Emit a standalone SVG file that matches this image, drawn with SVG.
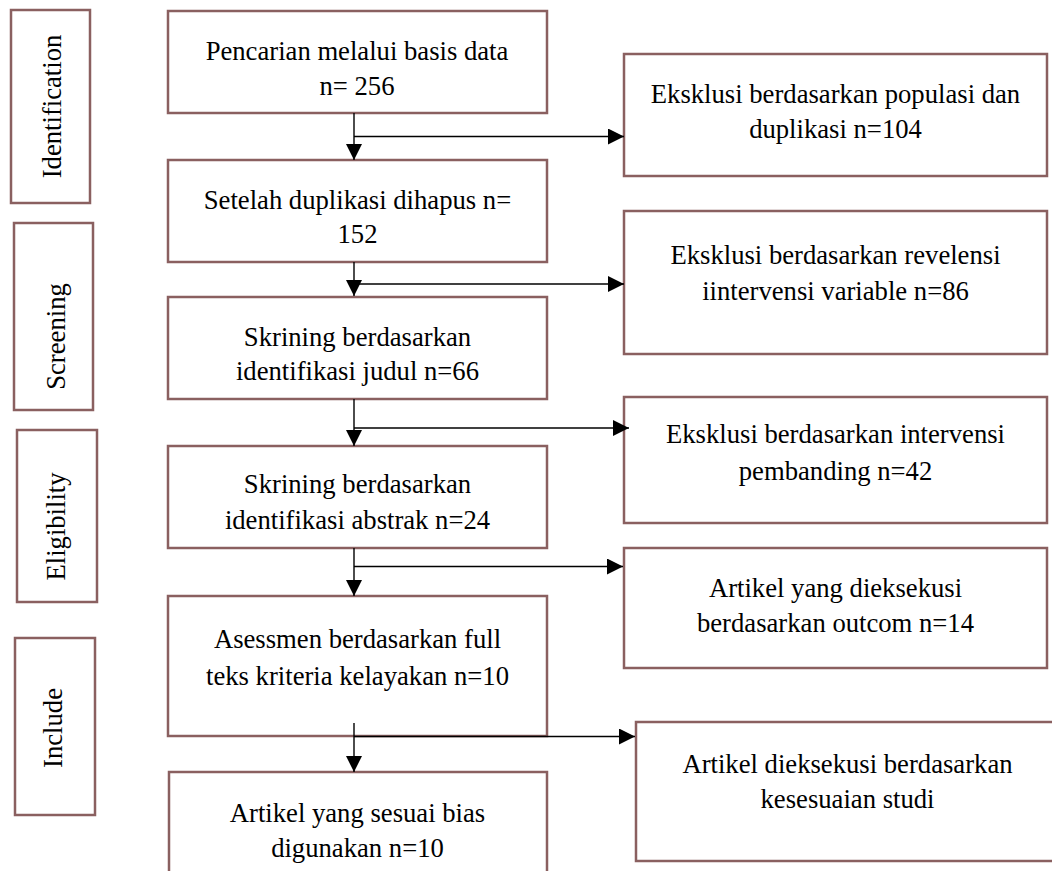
<svg xmlns="http://www.w3.org/2000/svg" width="1052" height="871" viewBox="0 0 1052 871">
<style>
.box{fill:#ffffff;stroke:#8a6060;stroke-width:2.5}
.t{font-family:"Liberation Serif","Times New Roman",serif;font-size:26.67px;fill:#000;text-anchor:middle}
.c{stroke:#000;stroke-width:1.4;fill:none}
</style>
<defs>
<marker id="ah" markerUnits="userSpaceOnUse" markerWidth="16" markerHeight="16" refX="16" refY="8" orient="auto">
<path d="M0,0 L16,8 L0,16 Z" fill="#000"/>
</marker>
</defs>
<rect width="1052" height="871" fill="#ffffff"/>

<g id="stage-identification">
<rect class="box" x="11" y="10" width="79" height="193"/>
<text class="t" transform="translate(61,106.5) rotate(-90)">Identification</text>
</g>
<g id="stage-screening">
<rect class="box" x="14" y="223" width="79" height="187"/>
<text class="t" transform="translate(65,336.5) rotate(-90)">Screening</text>
</g>
<g id="stage-eligibility">
<rect class="box" x="17" y="430" width="80" height="172"/>
<text class="t" transform="translate(65,526.5) rotate(-90)">Eligibility</text>
</g>
<g id="stage-include">
<rect class="box" x="15" y="638" width="80" height="177"/>
<text class="t" transform="translate(62,728) rotate(-90)">Include</text>
</g>

<g id="n-pencarian">
<rect class="box" x="168" y="11" width="379" height="102"/>
<text class="t" x="357" y="60">Pencarian melalui basis data</text>
<text class="t" x="357" y="95">n= 256</text>
</g>
<g id="n-setelah">
<rect class="box" x="168" y="160" width="379" height="102"/>
<text class="t" x="357.5" y="209">Setelah duplikasi dihapus n=</text>
<text class="t" x="357.5" y="243">152</text>
</g>
<g id="n-skrining-judul">
<rect class="box" x="168" y="297" width="379" height="102"/>
<text class="t" x="357.5" y="346">Skrining berdasarkan</text>
<text class="t" x="357.5" y="380">identifikasi judul n=66</text>
</g>
<g id="n-skrining-abstrak">
<rect class="box" x="168" y="446" width="379" height="102"/>
<text class="t" x="357.5" y="493">Skrining berdasarkan</text>
<text class="t" x="357.5" y="529">identifikasi abstrak n=24</text>
</g>
<g id="n-asessmen">
<rect class="box" x="168" y="596" width="379" height="140"/>
<text class="t" x="357.5" y="648">Asessmen berdasarkan full</text>
<text class="t" x="357.5" y="685">teks kriteria kelayakan n=10</text>
</g>
<g id="n-artikel-sesuai">
<rect class="box" x="169" y="772" width="378" height="130"/>
<text class="t" x="357.5" y="822">Artikel yang sesuai bias</text>
<text class="t" x="357.5" y="857">digunakan n=10</text>
</g>

<g id="x-populasi">
<rect class="box" x="624" y="54" width="423" height="122"/>
<text class="t" x="835.5" y="103">Eksklusi berdasarkan populasi dan</text>
<text class="t" x="835.5" y="138">duplikasi n=104</text>
</g>
<g id="x-revelensi">
<rect class="box" x="624" y="211" width="423" height="143"/>
<text class="t" x="835.5" y="264">Eksklusi berdasarkan revelensi</text>
<text class="t" x="835.5" y="300">iintervensi variable n=86</text>
</g>
<g id="x-intervensi">
<rect class="box" x="624" y="397" width="423" height="126"/>
<text class="t" x="835.5" y="443">Eksklusi berdasarkan intervensi</text>
<text class="t" x="835.5" y="480">pembanding n=42</text>
</g>
<g id="x-outcom">
<rect class="box" x="624" y="548" width="423" height="120"/>
<text class="t" x="835.5" y="597">Artikel yang dieksekusi</text>
<text class="t" x="835.5" y="632">berdasarkan outcom n=14</text>
</g>
<g id="x-kesesuaian">
<rect class="box" x="636" y="722" width="430" height="139"/>
<text class="t" x="847.5" y="773">Artikel dieksekusi berdasarkan</text>
<text class="t" x="847.5" y="808">kesesuaian studi</text>
</g>

<g id="connectors">
<line class="c" x1="354" y1="113" x2="354" y2="160" marker-end="url(#ah)"/>
<line class="c" x1="354" y1="136.5" x2="624" y2="136.5" marker-end="url(#ah)"/>
<line class="c" x1="354" y1="262" x2="354" y2="296" marker-end="url(#ah)"/>
<line class="c" x1="354" y1="284" x2="624" y2="284" marker-end="url(#ah)"/>
<line class="c" x1="354" y1="399" x2="354" y2="446" marker-end="url(#ah)"/>
<line class="c" x1="354" y1="428" x2="629" y2="428" marker-end="url(#ah)"/>
<line class="c" x1="354" y1="548" x2="354" y2="596" marker-end="url(#ah)"/>
<line class="c" x1="354" y1="566.5" x2="623" y2="566.5" marker-end="url(#ah)"/>
<line class="c" x1="354" y1="723" x2="354" y2="772" marker-end="url(#ah)"/>
<line class="c" x1="354" y1="736.5" x2="635" y2="736.5" marker-end="url(#ah)"/>
</g>
</svg>
